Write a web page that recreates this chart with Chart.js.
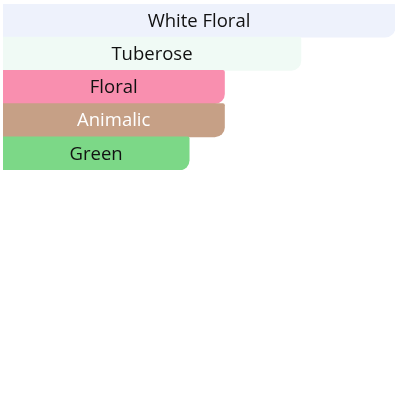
<!DOCTYPE html>
<html>
<head>
<meta charset="utf-8">
<script src="https://cdn.jsdelivr.net/npm/chart.js@4"></script>
<style>
html,body{margin:0;padding:0;background:#fff;}
#wrap{position:relative;width:400px;height:170px;}
</style>
</head>
<body>
<div id="wrap"><canvas id="c"></canvas></div>
<script>
const categories = ["White Floral", "Tuberose", "Floral", "Animalic", "Green"];
const values = [100, 76, 56.5, 56.5, 47.5];
const barColors = ["#EEF2FC", "#F0FAF5", "#F98FAF", "#C6A086", "#7CD887"];
const labelColors = ["#111111", "#111111", "#111111", "#FFFFFF", "#111111"];

const innerLabels = {
  id: 'innerLabels',
  afterDatasetsDraw(chart) {
    const ctx = chart.ctx;
    const meta = chart.getDatasetMeta(0);
    ctx.save();
    ctx.font = '18.5px "Open Sans"';
    ctx.textAlign = 'center';
    ctx.textBaseline = 'middle';
    meta.data.forEach((bar, i) => {
      const cx = (bar.base + bar.x) / 2;
      ctx.fillStyle = labelColors[i];
      ctx.fillText(categories[i], cx, bar.y + 1);
    });
    ctx.restore();
  }
};

new Chart(document.getElementById('c'), {
  type: 'bar',
  data: {
    labels: categories,
    datasets: [{
      data: values,
      backgroundColor: barColors,
      borderWidth: 0,
      borderRadius: {topLeft: 0, bottomLeft: 0, topRight: 2, bottomRight: 10},
      borderSkipped: false,
      categoryPercentage: 1,
      barPercentage: 1
    }]
  },
  options: {
    indexAxis: 'y',
    responsive: true,
    maintainAspectRatio: false,
    animation: false,
    layout: {padding: {top: 4, left: 3, right: 5, bottom: 0}},
    plugins: {legend: {display: false}, tooltip: {enabled: false}},
    scales: {
      x: {display: false, min: 0, max: 100},
      y: {display: false}
    }
  },
  plugins: [innerLabels]
});
</script>
</body>
</html>
